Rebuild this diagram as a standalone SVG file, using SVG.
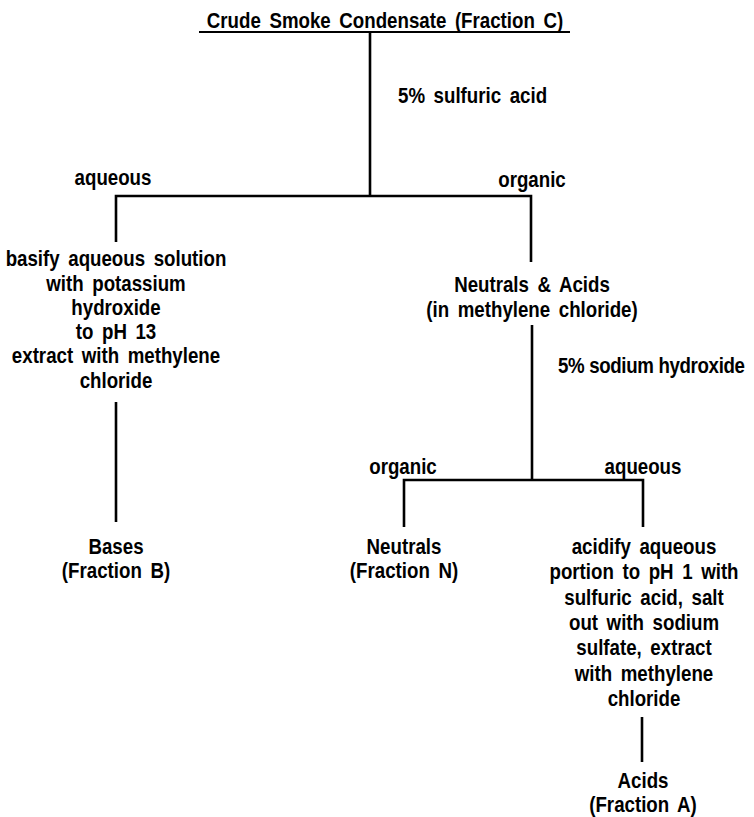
<svg xmlns="http://www.w3.org/2000/svg" width="754" height="817" viewBox="0 0 754 817">
  <style>
    .t { font-family: "Liberation Sans", Arial, sans-serif; font-weight: bold; font-size: 22px; fill: #000; word-spacing: 4px; }
    .c { text-anchor: middle; }
    .ln { stroke: #000; stroke-width: 2.6; fill: none; stroke-linecap: butt; stroke-linejoin: miter; }
  </style>
  <rect width="754" height="817" fill="#fff"/>

  <!-- connectors -->
  <g id="connectors" class="ln">
    <line x1="199" y1="32" x2="570" y2="32" stroke-width="2"/>
    <line x1="370" y1="32" x2="370" y2="196"/>
    <polyline points="116,242 116,196 531,196 531,262"/>
    <line x1="116" y1="402" x2="116" y2="522"/>
    <line x1="532" y1="325" x2="532" y2="480"/>
    <polyline points="404,527 404,480 643,480 643,527"/>
    <line x1="642" y1="717" x2="642" y2="762"/>
  </g>

  <!-- edge labels (text is narrowed horizontally by a per-line scale) -->
  <g id="labels" class="t">
    <text transform="translate(398 103) scale(0.85 1)">5% sulfuric acid</text>
    <text class="c" transform="translate(113 185) scale(0.85 1)">aqueous</text>
    <text class="c" transform="translate(532 187) scale(0.85 1)">organic</text>
    <text transform="translate(558 373) scale(0.85 1)" style="word-spacing:0" textLength="220" lengthAdjust="spacing">5% sodium hydroxide</text>
    <text class="c" transform="translate(403 474) scale(0.85 1)">organic</text>
    <text class="c" transform="translate(643 474) scale(0.85 1)">aqueous</text>
  </g>

  <g id="fraction-c" class="t c">
    <text transform="translate(385 28) scale(0.85 1)">Crude Smoke Condensate (Fraction C)</text>
  </g>

  <g id="basify-step" class="t c">
    <text transform="translate(116 266) scale(0.85 1)">basify aqueous solution</text>
    <text transform="translate(116 291) scale(0.85 1)">with potassium</text>
    <text transform="translate(116 315) scale(0.85 1)">hydroxide</text>
    <text transform="translate(116 339) scale(0.85 1)">to pH 13</text>
    <text transform="translate(116 363) scale(0.85 1)">extract with methylene</text>
    <text transform="translate(116 388) scale(0.85 1)">chloride</text>
  </g>

  <g id="fraction-b" class="t c">
    <text transform="translate(116 554) scale(0.85 1)">Bases</text>
    <text transform="translate(116 578) scale(0.85 1)">(Fraction B)</text>
  </g>

  <g id="neutrals-acids" class="t c">
    <text transform="translate(532 292) scale(0.85 1)">Neutrals &amp; Acids</text>
    <text transform="translate(532 317) scale(0.85 1)">(in methylene chloride)</text>
  </g>

  <g id="fraction-n" class="t c">
    <text transform="translate(404 554) scale(0.85 1)">Neutrals</text>
    <text transform="translate(404 578) scale(0.85 1)">(Fraction N)</text>
  </g>

  <g id="acidify-step" class="t c">
    <text transform="translate(644 554) scale(0.85 1)">acidify aqueous</text>
    <text transform="translate(644 579) scale(0.85 1)">portion to pH 1 with</text>
    <text transform="translate(644 605) scale(0.85 1)">sulfuric acid, salt</text>
    <text transform="translate(644 630) scale(0.85 1)">out with sodium</text>
    <text transform="translate(644 655) scale(0.85 1)">sulfate, extract</text>
    <text transform="translate(644 681) scale(0.85 1)">with methylene</text>
    <text transform="translate(644 706) scale(0.85 1)">chloride</text>
  </g>

  <g id="fraction-a" class="t c">
    <text transform="translate(643 788) scale(0.85 1)">Acids</text>
    <text transform="translate(643 812) scale(0.85 1)">(Fraction A)</text>
  </g>
</svg>
